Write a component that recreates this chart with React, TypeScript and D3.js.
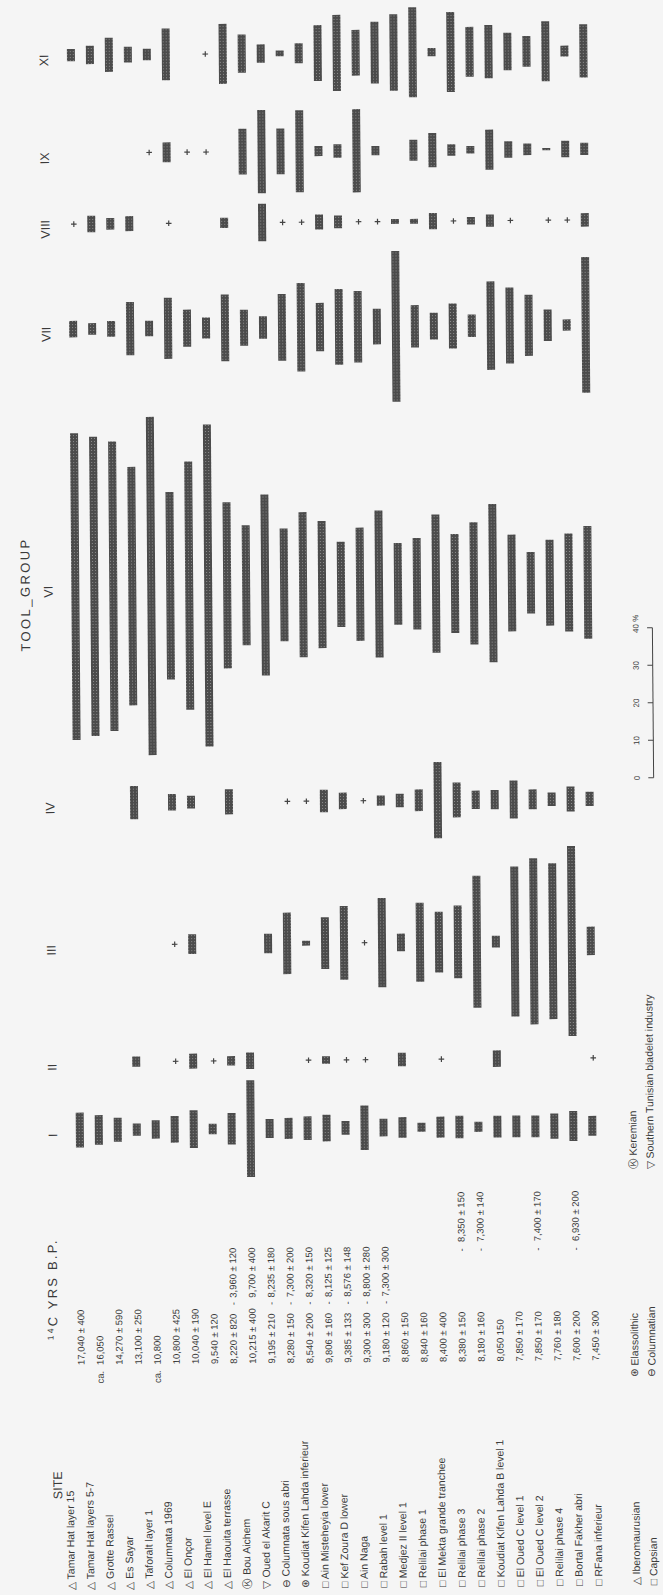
import React from "react";
import * as d3 from "d3";

// ---------- DATA ----------
const T = "+"; // trace (present, < 1%)

const sites = [
  "Tamar Hat layer 15", "Tamar Hat layers 5-7", "Grotte Rassel", "Es Sayar",
  "Taforalt layer 1", "Columnata 1969", "El Onçor", "El Hamel level E",
  "El Haouita terrasse", "Bou Aichem", "Oued el Akarit C", "Columnata sous abri",
  "Koudiat Kifen Lahda inferieur", "Ain Misteheyia lower", "Kef Zoura D lower", "Ain Naga",
  "Rabah level 1", "Medjez II  level 1", "Relilai phase 1", "El Mekta grande tranchee",
  "Relilai phase 3", "Relilai phase 2", "Koudiat Kifen Lahda B level 1", "El Oued C level 1",
  "El Oued C level 2", "Relilai phase 4", "Bortal Fakher abri", "RFana inferieur",
];

const cultures = ["Iberomaurusian", "Capsian", "Elassolithic", "Columnatian", "Keremian", "Southern Tunisian bladelet industry"];
const cultureMarks = ["△", "□", "⊛", "⊖", "Ⓚ", "▽"];
const siteCulture = [0, 0, 0, 0, 0, 0, 0, 0, 0, 4, 5, 3, 2, 1, 1, 1, 1, 1, 1, 1, 1, 1, 1, 1, 1, 1, 1, 1];

const circa = [false, true, false, false, true, false, false, false, false, false, false, false, false, false,
  false, false, false, false, false, false, false, false, false, false, false, false, false, false];
const datesA = [
  "17,040 ± 400", "16,050", "14,270 ± 590", "13,100 ± 250", "10,800", "10,800 ± 425", "10,040 ± 190",
  "9,540 ± 120", "8,220 ± 820", "10,215 ± 400", "9,195 ± 210", "8,280 ± 150", "8,540 ± 200",
  "9,806 ± 160", "9,385 ± 133", "9,300 ± 300", "9,180 ± 120", "8,860 ± 150", "8,840 ± 160",
  "8,400 ± 400", "8,380 ± 150", "8,180 ± 160", "8,050  150", "7,850 ± 170", "7,850 ± 170",
  "7,760 ± 180", "7,600 ± 200", "7,450 ± 300",
];
const datesB = [
  "", "", "", "", "", "", "", "", "3,960 ± 120", "9,700 ± 400", "8,235 ± 180", "7,300 ± 200",
  "8,320 ± 150", "8,125 ± 125", "8,576 ± 148", "8,800 ± 280", "7,300 ± 300", "", "", "",
  "8,350 ± 150", "7,300 ± 140", "", "", "7,400 ± 170", "", "6,930 ± 200", "",
];
const dateDash = [
  false, false, false, false, false, false, false, false, true, false, true, true, true, true, true, true, true,
  false, false, false, true, true, false, false, true, false, true, false,
];

const groupNames = ["I", "II", "III", "IV", "VI", "VII", "VIII", "IX", "XI"];

const groupI = [9.3, 7.9, 6.4, 3.3, 4.9, 7.1, 10.1, 2.8, 8.4, 25.8, 5.1, 5.6, 6.3, 7.1, 3.7, 11.9, 4.7, 5.5, 2.4, 5.6, 6.0, 2.7, 5.8, 5.8, 5.8, 6.7, 8.0, 5.3];
const groupII = [null, null, null, 2.7, null, T, 4.0, T, 2.5, 4.4, null, null, T, 2.0, T, T, null, 3.6, null, T, null, null, 4.4, null, null, null, null, T];
const groupIII = [null, null, null, null, null, T, 5.3, null, null, null, 5.2, 16.4, 1.3, 13.8, 19.7, T, 23.8, 4.7, 21.1, 16.2, 19.4, 35.2, 3.1, 40.0, 44.3, 41.6, 50.7, 7.6];
const groupIV = [null, null, null, 8.9, null, 4.4, 3.4, null, 6.7, null, null, T, T, 6.0, 4.4, T, 2.7, 3.6, 5.8, 20.3, 9.3, 4.9, 5.1, 10.1, 5.3, 3.6, 6.7, 3.8];
const groupVI = [81.8, 79.8, 77.2, 63.6, 90.2, 50.0, 66.2, 85.9, 44.3, 32.0, 48.3, 30.1, 38.7, 33.9, 22.7, 30.2, 39.2, 21.8, 24.4, 36.9, 26.4, 32.6, 42.2, 25.8, 16.4, 22.9, 26.1, 30.1];
const groupVII = [4.4, 3.1, 4.2, 14.2, 4.1, 16.3, 9.9, 5.6, 17.8, 9.6, 6.0, 17.8, 23.6, 12.9, 20.2, 19.1, 9.5, 40.2, 11.3, 7.1, 12.0, 6.0, 23.6, 20.3, 16.3, 8.4, 3.0, 36.2];
const groupVIII = [T, 4.4, 3.1, 4.0, null, T, null, null, 2.7, null, 10.0, T, T, 4.0, 3.4, T, T, 1.3, 1.3, 4.3, T, 2.0, 3.3, T, null, T, T, 3.6];
const groupIX = [null, null, null, null, T, 5.3, T, T, null, 12.2, 22.2, 12.2, 21.9, 2.7, 3.6, 22.2, 2.5, null, 5.6, 9.1, 3.1, 2.0, 10.7, 4.4, 3.1, 0.6, 4.4, 3.3];
const groupXI = [3.3, 4.9, 9.1, 4.2, 3.1, 13.8, null, T, 16.0, 10.2, 4.9, 1.5, 5.3, 14.9, 20.3, 12.2, 16.5, 20.4, 24.0, 2.2, 21.3, 13.3, 14.2, 10.0, 8.2, 16.0, 2.9, 14.2];

const groupValues = [groupI, groupII, groupIII, groupIV, groupVI, groupVII, groupVIII, groupIX, groupXI];

const pctTicks = [0, 10, 20, 30, 40];

// ---------- CHART ----------
const FONT = "'Liberation Sans', Arial, Helvetica, sans-serif";
const INK = "#3a3a3a";

function VText(props: any) {
  const { x, y, anchor = "start", size = 10, children, spacing = 0, weight = "normal" } = props;
  return (
    <text
      transform={`translate(${x},${y}) rotate(-90)`}
      dy="0.35em"
      textAnchor={anchor}
      fontSize={size}
      fontFamily={FONT}
      fill={INK}
      letterSpacing={spacing}
      fontWeight={weight}
    >
      {children}
    </text>
  );
}

export default function App() {
  const W = 663;
  const H = 1595;

  const row = d3.scalePoint<string>().domain(sites).range([77.1, 589.6]);
  const labelRow = d3.scalePoint<string>().domain(sites).range([64.5, 592]);
  const dateRow = d3.scalePoint<string>().domain(sites).range([76.5, 591]);
  const center = d3.scaleOrdinal<string, number>()
    .domain(groupNames)
    .range([1128, 1060, 943, 801, 584.5, 327, 222, 151, 53]);
  const len = d3.scaleLinear().domain([0, 40]).range([0, 150]);
  const scaleBar = d3.scaleLinear().domain([0, 40]).range([780.5, 630.5]);

  const barW = 8;
  const labelStartY = 1588;
  const dateStartY = 1363;
  const legendX = [630, 647];
  const legendY = [1588, 1380, 1172];

  return (
    <svg
      width={W}
      height={H}
      viewBox={`0 0 ${W} ${H}`}
      style={{ position: "absolute", left: 0, top: 0, display: "block" }}
    >
      <defs>
        <pattern id="dots" width="3" height="3" patternUnits="userSpaceOnUse">
          <rect width="3" height="3" fill="#4b4b4b" />
          <rect x="1" y="1" width="1" height="1" fill="#8e8e8e" />
        </pattern>
      </defs>
      <rect width={W} height={H} fill="#f5f5f5" />
      <g transform="rotate(-0.475 330 800)">
        {/* headers */}
        <VText x={52} y={1483} anchor="middle" size={12.5}>SITE</VText>
        <text
          transform={`translate(53,1287) rotate(-90)`}
          dy="0.35em"
          textAnchor="middle"
          fontSize={13}
          fontFamily={FONT}
          fill={INK}
          letterSpacing={2.2}
        >
          <tspan fontSize={8.5} dy="-4">14</tspan>
          <tspan dy="4">C YRS B.P.</tspan>
        </text>
        <VText x={27} y={592} anchor="middle" size={13} spacing={2.4}>TOOL_GROUP</VText>
        {groupNames.map((g) => (
          <VText key={"gl" + g} x={50} y={center(g) + 5} anchor="middle" size={12.5}>{g}</VText>
        ))}

        {/* site labels */}
        {sites.map((s, i) => (
          <VText key={"s" + i} x={labelRow(s)} y={labelStartY} size={10.5}>
            {cultureMarks[siteCulture[i]] + " " + s}
          </VText>
        ))}

        {/* dates */}
        {sites.map((s, i) => {
          const x = dateRow(s) as number;
          const far = i >= 17;
          const bStart = far ? 1243 : 1297;
          const dashY = far ? 1251 : 1303;
          return (
            <g key={"d" + i}>
              {circa[i] && <VText x={x} y={dateStartY + 6} anchor="end" size={9.5}>ca.</VText>}
              <VText x={x} y={dateStartY} size={9.5}>{datesA[i]}</VText>
              {dateDash[i] && <VText x={x} y={dashY} anchor="middle" size={9.5}>-</VText>}
              {datesB[i] && <VText x={x} y={bStart} size={9.5}>{datesB[i]}</VText>}
            </g>
          );
        })}

        {/* bars */}
        {groupNames.map((g, gi) =>
          groupValues[gi].map((v: any, i: number) => {
            if (v === null) return null;
            const x = row(sites[i]) as number;
            const cy = center(g);
            if (v === T) {
              const px = x + 1.5;
              return (
                <g key={g + "-" + i} stroke="#444" strokeWidth={1.2}>
                  <line x1={px - 2.8} x2={px + 2.8} y1={cy} y2={cy} />
                  <line x1={px} x2={px} y1={cy - 2.8} y2={cy + 2.8} />
                </g>
              );
            }
            const h = len(v);
            return (
              <rect key={g + "-" + i} x={x - barW / 2} y={cy - h / 2} width={barW} height={h} fill="url(#dots)" />
            );
          })
        )}

        {/* percentage scale bar */}
        <g stroke="#444" strokeWidth={1}>
          <line x1={653.8} x2={653.8} y1={scaleBar(0)} y2={scaleBar(40)} />
          {pctTicks.map((t) => (
            <line key={"t" + t} x1={648.5} x2={653.8} y1={scaleBar(t)} y2={scaleBar(t)} />
          ))}
        </g>
        {pctTicks.map((t, i) => (
          <VText
            key={"tl" + t}
            x={637}
            y={i === pctTicks.length - 1 ? scaleBar(t) + 5 : scaleBar(t)}
            anchor={i === pctTicks.length - 1 ? "start" : "middle"}
            size={8}
          >
            {i === pctTicks.length - 1 ? t + " %" : String(t)}
          </VText>
        ))}

        {/* legend */}
        {cultures.map((c, i) => (
          <VText key={"lg" + i} x={legendX[i % 2]} y={legendY[Math.floor(i / 2)]} size={10.5}>
            {cultureMarks[i] + " " + c}
          </VText>
        ))}
      </g>
    </svg>
  );
}
